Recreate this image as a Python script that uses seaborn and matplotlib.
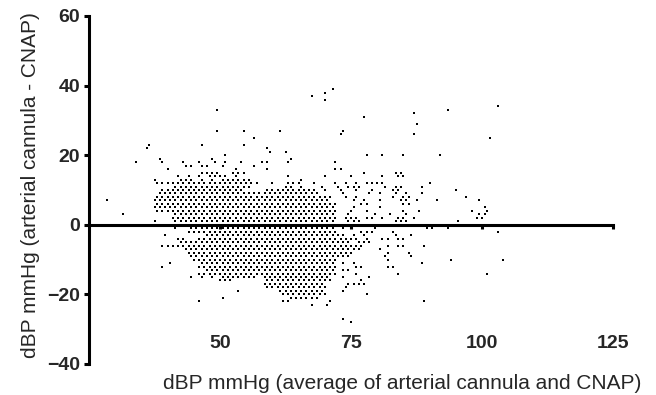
import numpy as np
import pandas as pd
import matplotlib
matplotlib.use('Agg')
import matplotlib.pyplot as plt
import seaborn as sns

# ------------------------------------------------------------
# Data (dBP, arterial vs CNAP)
# The core of the cloud is almost fully occupied on the 0.5 mmHg
# lattice, so it is stored as filled row segments (y, x from, x to)
# ------------------------------------------------------------
seg_y  = [13, 12, 11, 10, 10, 9, 8, 7, 6, 5, 4, 3, 2, 1,
          -1, -2, -3, -4, -5, -6, -7, -8, -9, -10, -11, -12, -13,
          -14, -14, -15, -15, -16, -16, -17, -18, -19, -20, -21]
seg_x0 = [51, 38, 41, 39, 59, 38.5, 38, 37.5, 38, 37, 38, 41, 41, 41.5,
          44, 44, 47, 46, 42, 39, 43, 44, 44, 44.5, 46, 46, 47,
          46, 58, 50, 58.5, 50, 58.5, 58.5, 59, 61, 62, 63]
seg_x1 = [56, 57, 56, 54, 68.5, 69, 71, 71, 72, 72, 72, 72, 72, 72,
          72, 72, 74, 75, 75, 77, 77, 75, 75, 72, 72, 72, 72,
          57, 72, 57, 71, 52, 71, 70, 70, 70, 70, 69]

# scattered single points (mean, difference)
pt_x = [28.5, 31.5, 34, 36, 36.5, 38.5, 39, 40, 43, 43.5, 44.5, 46, 46.5, 47.5,
        48.5, 49, 50.5, 51, 51, 46.5, 49.5, 49.5,
        46.5, 47.5, 48.5, 49.5, 52.5, 53.5, 54.5, 77.5, 83.5, 84.5,
        42, 44, 46, 48, 49, 50, 51, 53, 63, 70, 75, 81, 84, 85,
        37.5, 42.5, 43.5, 44.5, 46.5, 48.5, 50.5, 65.5,
        53, 59, 72, 73, 56.5,
        54, 58, 59, 63, 72, 63.5, 78, 81, 85, 92, 59.5, 62.5, 59, 54.5,
        56.5, 101.5, 73, 87, 54.5, 61.5, 73.5, 87.5, 77.5, 87, 93.5, 103,
        70, 67.5, 70, 71.5,
        60, 63, 64, 65, 68, 72, 74, 76, 78, 79, 80, 81, 90,
        62.5, 63.5, 65.5, 69.5, 72.5, 74.5, 75.5, 76.5, 81.5, 83.5, 84.5, 88.5,
        70, 73, 76, 79, 83, 84, 95,
        73.5, 78.5, 80.5, 83.5, 85.5, 88.5,
        74, 76, 83, 85, 86, 97,
        75.5, 77.5, 80.5, 84.5, 85.5, 87.5, 91.5, 99.5,
        77, 78, 85, 86,
        75.5, 80.5, 100.5,
        75, 78, 85, 88, 98, 101,
        74.5, 79.5, 82.5, 85.5, 99.5, 100.5,
        74, 75, 76, 78, 79, 81, 84, 85, 87, 99, 100,
        37.5, 74.5, 75.5, 76.5, 83.5, 84.5, 85.5, 95.5,
        41.5, 73.5, 79.5, 89.5, 90.5, 93.5,
        77, 78, 79, 83, 103,
        39.5, 75.5, 77.5, 83.5, 86.5,
        42, 43, 76, 78, 81, 82, 84, 85,
        76.5, 77.5, 78.5,
        82, 84, 85, 89,
        80.5,
        82, 86,
        81.5, 86.5,
        82, 94, 104,
        40.5, 73.5, 75.5, 88.5,
        39, 76, 77, 82, 83,
        73.5, 74.5,
        76, 84, 101,
        44.5, 46.5, 48.5, 73.5, 78.5,
        77,
        74.5, 75.5, 76.5, 77.5,
        74, 73.5, 53.5, 78, 50.5,
        46, 62, 63, 71, 89, 67.5, 70.5,
        73.5, 75]
pt_y = [7, 3, 18, 22, 23, 19, 18, 16, 18, 17, 17, 18, 17, 17,
        19, 18, 17, 18, 20, 23, 27, 33,
        15, 15, 15, 15, 15, 15, 15, 15, 15, 15,
        14, 14, 14, 14, 14, 14, 14, 14, 14, 14, 14, 14, 14, 14,
        13, 13, 13, 13, 13, 13, 13, 13,
        16, 16, 16, 16, 17,
        18, 18, 18, 18, 18, 19, 20, 20, 20, 20, 21, 21, 22, 23,
        25, 25, 26, 26, 27, 27, 27, 29, 31, 32, 33, 34,
        36, 37, 38, 39,
        12, 12, 12, 12, 12, 12, 12, 12, 12, 12, 12, 12, 12,
        11, 11, 11, 11, 11, 11, 11, 11, 11, 11, 11, 11,
        10, 10, 10, 10, 10, 10, 10,
        9, 9, 9, 9, 9, 9,
        8, 8, 8, 8, 8, 8,
        7, 7, 7, 7, 7, 7, 7, 7,
        6, 6, 6, 6,
        5, 5, 5,
        4, 4, 4, 4, 4, 4,
        3, 3, 3, 3, 3, 3,
        2, 2, 2, 2, 2, 2, 2, 2, 2, 2, 2,
        1, 1, 1, 1, 1, 1, 1, 1,
        -1, -1, -1, -1, -1, -1,
        -2, -2, -2, -2, -2,
        -3, -3, -3, -3, -3,
        -4, -4, -4, -4, -4, -4, -4, -4,
        -5, -5, -5,
        -6, -6, -6, -6,
        -7,
        -8, -8,
        -9, -9,
        -10, -10, -10,
        -11, -11, -11, -11,
        -12, -12, -12, -12, -12,
        -13, -13,
        -14, -14, -14,
        -15, -15, -15, -15, -15,
        -16,
        -17, -17, -17, -17,
        -18, -19, -19, -20, -21,
        -22, -22, -22, -22, -22, -23, -23,
        -27, -28]

# ------------------------------------------------------------
# Build one table of points
# ------------------------------------------------------------
xs, ys = [], []
for y, x0, x1 in zip(seg_y, seg_x0, seg_x1):
    # even differences sit on whole means, odd ones on half means
    off = 0.0 if y % 2 == 0 else 0.5
    x = np.floor(x0) + off
    if x < x0:
        x += 1
    while x <= x1:
        xs.append(x)
        ys.append(y)
        x += 1
xs += pt_x
ys += pt_y
df = pd.DataFrame({'mean': xs, 'diff': ys})

# ------------------------------------------------------------
# Plot
# ------------------------------------------------------------
sns.set_style('ticks')
plt.rcParams['font.family'] = ['Liberation Sans', 'DejaVu Sans']

fig = plt.figure(figsize=(6.56, 3.95), dpi=100)
ax = fig.add_axes([89 / 656, 31 / 395, 524 / 656, 348 / 395])

sns.scatterplot(data=df, x='mean', y='diff', marker='s', s=0.7,
                color='black', linewidth=0, ax=ax)

ax.set_xlim(25, 125)
ax.set_ylim(-40, 60)

ax.spines['top'].set_visible(False)
ax.spines['right'].set_visible(False)
ax.spines['left'].set_linewidth(2.2)
ax.spines['bottom'].set_linewidth(2.2)
ax.spines['bottom'].set_position(('data', 0))
ax.spines['left'].set_color('black')
ax.spines['bottom'].set_color('black')

ax.set_xticks([50, 75, 100, 125])
ax.set_yticks([-40, -20, 0, 20, 40, 60])
ax.tick_params(axis='y', direction='out', length=3.5, width=2.2,
               color='black', pad=3, labelsize=14)
ax.tick_params(axis='x', direction='out', length=3, width=2.2,
               color='black', pad=76, labelsize=14)
for lab in ax.get_xticklabels() + ax.get_yticklabels():
    lab.set_fontweight('bold')

ax.set_xlabel('dBP mmHg (average of arterial cannula and CNAP)', fontsize=15)
ax.set_ylabel('dBP mmHg (arterial cannula - CNAP)', fontsize=15)
ax.xaxis.set_label_coords(0.597, -0.028)
ax.yaxis.set_label_coords(-0.093, 0.514)

fig.savefig('out.png', dpi=100)
